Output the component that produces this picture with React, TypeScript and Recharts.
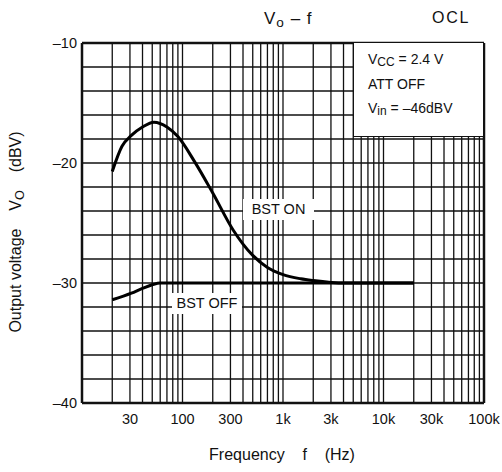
import {
  LineChart, Line, XAxis, YAxis, ReferenceLine,
} from "recharts";

// frequency (Hz) / output voltage (dBV)
const bstOnFreq = [20, 25, 31, 40, 52, 70, 90, 130, 200, 320, 500, 700, 1000, 1500, 2000, 3000, 4000, 10000, 20000];
const bstOnVo = [-20.7, -18.6, -17.7, -17.0, -16.6, -17.0, -17.8, -19.8, -22.5, -25.6, -27.7, -28.7, -29.3, -29.65, -29.8, -29.95, -30, -30, -30];
const bstOffFreq = [20, 31, 40, 50, 60, 100, 1000, 10000, 20000];
const bstOffVo = [-31.4, -30.85, -30.45, -30.15, -30.0, -30, -30, -30, -30];

const xTicks = [30, 100, 300, 1000, 3000, 10000, 30000, 100000];
const yTicks = [-40, -30, -20, -10];
const xGrid = [
  20, 30, 40, 50, 60, 70, 80, 90, 100,
  200, 300, 400, 500, 600, 700, 800, 900, 1000,
  2000, 3000, 4000, 5000, 6000, 7000, 8000, 9000, 10000,
  20000, 30000, 40000, 50000, 60000, 70000, 80000, 90000,
];
const yGrid = [-38, -36, -34, -32, -30, -28, -26, -24, -22, -20, -18, -16, -14, -12];

const bstOn = bstOnFreq.map((f, i) => ({ f, v: bstOnVo[i] }));
const bstOff = bstOffFreq.map((f, i) => ({ f, v: bstOffVo[i] }));

const font = "'Liberation Sans', Arial, sans-serif";

const fmtX = (v: number) => (v >= 1000 ? `${v / 1000}k` : `${v}`);
const fmtY = (v: number) => `\u2013${Math.abs(v)}`;

const sub = { fontSize: "0.8em", position: "relative" as const, top: 3 };

export default function App() {
  return (
    <div style={{ position: "absolute", left: 0, top: 0, width: 502, height: 472, background: "#fff", fontFamily: font, color: "#111" }}>
      <LineChart width={502} height={472} margin={{ top: 43, right: 18, left: 42, bottom: 39 }}>
        {xGrid.map((x) => (
          <ReferenceLine key={"x" + x} x={x} stroke="#111" strokeWidth={1.3} />
        ))}
        {yGrid.map((y) => (
          <ReferenceLine key={"y" + y} y={y} stroke="#111" strokeWidth={1.3} />
        ))}
        <ReferenceLine y={-10} stroke="#111" strokeWidth={2.5} />
        <ReferenceLine x={100000} stroke="#111" strokeWidth={2.5} />
        <XAxis
          type="number"
          dataKey="f"
          scale="log"
          domain={[10, 100000]}
          ticks={xTicks}
          tickFormatter={fmtX}
          allowDataOverflow
          height={30}
          tickLine={false}
          tickSize={6}
          tickMargin={5}
          axisLine={{ stroke: "#111", strokeWidth: 2.5 }}
          tick={{ fill: "#111", fontSize: 14.5, fontFamily: font }}
        />
        <YAxis
          type="number"
          dataKey="v"
          domain={[-40, -10]}
          ticks={yTicks}
          tickFormatter={fmtY}
          width={40}
          tickLine={false}
          tickSize={4}
          tickMargin={1}
          axisLine={{ stroke: "#111", strokeWidth: 2.5 }}
          tick={{ fill: "#111", fontSize: 14.5, fontFamily: font }}
        />
        <Line data={bstOn} dataKey="v" type="monotone" stroke="#000" strokeWidth={3} dot={false} isAnimationActive={false} />
        <Line data={bstOff} dataKey="v" type="monotone" stroke="#000" strokeWidth={3} dot={false} isAnimationActive={false} />
      </LineChart>

      {/* title */}
      <div style={{ position: "absolute", left: 264, top: 9, fontSize: 17, letterSpacing: 1, whiteSpace: "pre" }}>
        V<span style={sub}>o</span> – f
      </div>
      <div style={{ position: "absolute", left: 432, top: 9, fontSize: 16, letterSpacing: 1.8 }}>OCL</div>

      {/* conditions box */}
      <div style={{ position: "absolute", left: 353, top: 43, width: 130, height: 94, background: "#fff", borderLeft: "1.5px solid #111", borderBottom: "1.5px solid #111", fontSize: 14, lineHeight: "24px", paddingLeft: 14, paddingTop: 4, boxSizing: "border-box" }}>
        <div>V<span style={{ fontSize: 12, position: "relative", top: 2 }}>CC</span> = 2.4 V</div>
        <div>ATT OFF</div>
        <div>V<span style={{ fontSize: 12, position: "relative", top: 2 }}>in</span> = –46dBV</div>
      </div>

      {/* series labels */}
      <div style={{ position: "absolute", left: 243, top: 199, width: 71, height: 21, background: "#fff", fontSize: 14.5, lineHeight: "21px", textAlign: "center" }}>BST ON</div>
      <div style={{ position: "absolute", left: 172, top: 293, width: 70, height: 21, background: "#fff", fontSize: 14.5, lineHeight: "21px", textAlign: "center" }}>BST OFF</div>

      {/* axis titles */}
      <div style={{ position: "absolute", left: 282, top: 446, transform: "translateX(-50%)", fontSize: 16, whiteSpace: "pre" }}>
        Frequency    f    (Hz)
      </div>
      <div style={{ position: "absolute", left: 16, top: 232, transform: "translate(-50%, -50%) rotate(-90deg)", fontSize: 16, whiteSpace: "pre" }}>
        Output voltage    V<span style={sub}>O</span>    (dBV)
      </div>
    </div>
  );
}
